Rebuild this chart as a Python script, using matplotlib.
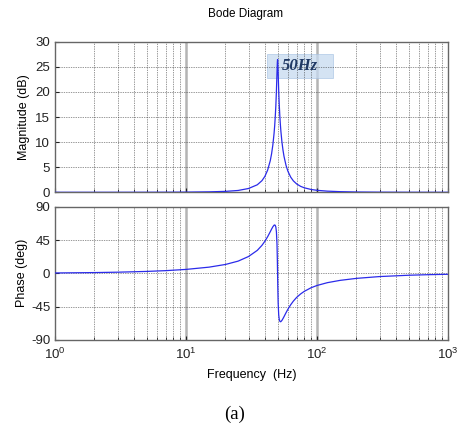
import numpy as np
import matplotlib
matplotlib.use("Agg")
import matplotlib.pyplot as plt
from matplotlib.ticker import LogLocator, NullFormatter
from matplotlib.patches import Rectangle

# values
freq_hz = [1, 2, 3, 5, 7, 10, 15, 20, 25, 30, 35, 38, 40, 42, 44, 45, 46, 47,
           47.5, 48, 48.5, 49, 49.5, 49.8, 50, 50.2, 50.5, 51, 51.5, 52, 52.5,
           53, 54, 55, 56, 58, 60, 63, 66, 70, 75, 80, 90, 100, 120, 150, 200,
           300, 500, 700, 1000]
mag_db = [0.0, 0.001, 0.003, 0.009, 0.018, 0.037, 0.093, 0.19, 0.37, 0.76,
          1.50, 2.32, 3.17, 4.43, 6.33, 7.67, 9.40, 11.70, 13.18, 14.98, 17.23,
          20.16, 23.87, 25.92, 26.44, 25.92, 23.91, 20.29, 17.46, 15.29, 13.58,
          12.17, 10.01, 8.40, 7.15, 5.38, 4.18, 3.02, 2.28, 1.66, 1.19, 0.90,
          0.57, 0.40, 0.235, 0.131, 0.061, 0.025, 0.009, 0.004, 0.002]
phase_deg = [0.51, 1.02, 1.54, 2.58, 3.64, 5.30, 8.36, 11.98, 16.5, 22.7, 31.0,
             37.8, 43.3, 49.5, 56.3, 59.7, 62.8, 65.0, 65.4, 64.8, 62.5, 56.2,
             39.6, 18.8, 0.0, -18.7, -39.3, -55.8, -62.1, -64.6, -65.4, -65.2,
             -63.5, -61.1, -58.5, -53.2, -48.4, -42.4, -37.5, -32.4, -27.8,
             -24.3, -19.5, -16.4, -12.6, -9.5, -6.8, -4.37, -2.58, -1.83, -1.28]

mag_ticks = [0, 5, 10, 15, 20, 25, 30]
phase_ticks = [-90, -45, 0, 45, 90]
decades = [10, 100]

plt.rcParams["font.family"] = ["Liberation Sans", "DejaVu Sans"]
plt.rcParams["mathtext.fontset"] = "custom"
plt.rcParams["mathtext.rm"] = "Liberation Sans"
plt.rcParams["mathtext.it"] = "Liberation Sans:italic"
plt.rcParams["axes.unicode_minus"] = False

fig = plt.figure(figsize=(4.6, 4.29), dpi=100)
ax1 = fig.add_axes([0.1196, 0.5517, 0.8543, 0.3511])
ax2 = fig.add_axes([0.1196, 0.2075, 0.8543, 0.3107])

line_col = "#2b2bea"
dot = (0, (1, 1.5))


def style_axis(ax):
    ax.set_xscale("log")
    ax.set_xlim(1, 1000)
    ax.xaxis.set_major_locator(LogLocator(base=10))
    ax.xaxis.set_minor_locator(LogLocator(base=10, subs=np.arange(2, 10)))
    ax.xaxis.set_minor_formatter(NullFormatter())
    ax.grid(True, which="minor", axis="x", color="#333333", linestyle=dot, linewidth=0.5)
    ax.grid(True, which="major", axis="y", color="#333333", linestyle=dot, linewidth=0.5)
    for d in decades:
        ax.axvline(d, color="#b4b4b4", linewidth=1.8, zorder=0.8)
    ax.tick_params(which="both", direction="in", labelsize=9.5, colors="#222222")
    ax.tick_params(which="major", length=3)
    ax.tick_params(which="minor", length=2)
    for s in ax.spines.values():
        s.set_color("#666666")
        s.set_linewidth(1.0)


style_axis(ax1)
ax1.plot(freq_hz, mag_db, color=line_col, linewidth=0.9, zorder=3)
ax1.set_ylim(0, 30)
ax1.set_yticks(mag_ticks)
ax1.tick_params(axis="x", labelbottom=False)
ax1.set_ylabel("Magnitude (dB)", fontsize=9, labelpad=4)

# highlighted 50Hz label
ax1.add_patch(Rectangle((41.5, 22.8), 132 - 41.5, 27.5 - 22.8, facecolor="#c6daf0",
                        edgecolor="#a9c3e3", linewidth=0.6, alpha=0.75, zorder=1))
ax1.text(54, 25.1, "50Hz", fontsize=12, fontweight="bold", fontstyle="italic",
         family="Liberation Serif", color="#1f3864", va="center", ha="left", zorder=4)

style_axis(ax2)
ax2.plot(freq_hz, phase_deg, color=line_col, linewidth=0.9, zorder=3)
ax2.set_ylim(-90, 90)
ax2.set_yticks(phase_ticks)
ax2.tick_params(axis="x", pad=5)
ax2.set_ylabel("Phase (deg)", fontsize=9, labelpad=2)
ax2.set_xlabel("Frequency  (Hz)", fontsize=9, labelpad=5)

fig.text(0.534, 0.967, "Bode Diagram", ha="center", va="center", fontsize=8.5)
fig.text(0.511, 0.033, "(a)", ha="center", va="center", fontsize=13.5, family="Liberation Serif")

fig.savefig("out.png", dpi=100)
